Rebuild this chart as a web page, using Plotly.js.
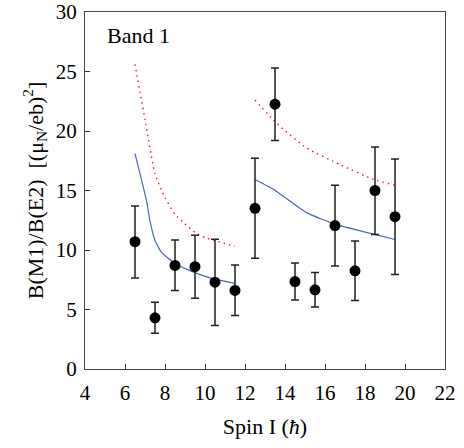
<!DOCTYPE html>
<html>
<head>
<meta charset="utf-8">
<script src="https://cdn.plot.ly/plotly-3.0.1.min.js"></script>
<style>html,body{margin:0;padding:0;background:#fff;}#chart{width:464px;height:448px;}</style>
</head>
<body>
<div id="chart"></div>
<script>
// Experimental data
var spin = [6.5, 7.5, 8.5, 9.5, 10.5, 11.5, 12.5, 13.5, 14.5, 15.5, 16.5, 17.5, 18.5, 19.5];
var ratio = [10.7, 4.3, 8.7, 8.6, 7.3, 6.6, 13.5, 22.25, 7.35, 6.65, 12.05, 8.25, 15.0, 12.8];
var errUp = [13.7, 5.6, 10.85, 11.25, 10.9, 8.75, 17.7, 25.3, 8.9, 8.1, 15.45, 10.75, 18.65, 17.65];
var errLow = [7.65, 3.0, 6.6, 5.95, 3.65, 4.5, 9.3, 19.2, 5.8, 5.2, 8.65, 5.75, 11.3, 7.95];

// Calculation curves (blue solid)
var blueAx = [6.5, 7.08, 7.25, 7.5, 7.83, 8.42, 9.25, 10.25, 11.5];
var blueAy = [18.1, 14.1, 12.45, 10.8, 9.8, 8.96, 8.27, 7.66, 7.2];
var blueBx = [12.5, 13.42, 15.08, 16.5, 18.42, 19.5];
var blueBy = [15.93, 15.1, 13.14, 12.17, 11.33, 10.88];

// Calculation curves (red dotted)
var redAx = [6.5, 7.0, 7.5, 8.0, 8.5, 9.0, 9.5, 10.0, 10.5, 11.5];
var redAy = [25.6, 20.97, 16.4, 14.4, 13.0, 12.2, 11.47, 11.05, 10.78, 10.3];
var redBx = [12.5, 13.58, 15.08, 16.75, 18.42, 19.5];
var redBy = [22.6, 20.65, 18.57, 17.18, 15.93, 15.45];

// Tick labels
var xTicks = [4, 6, 8, 10, 12, 14, 16, 18, 20, 22];
var yTicks = [0, 5, 10, 15, 20, 25, 30];

var serif = 'Liberation Serif, Times New Roman, Times, serif';
var blue = '#4a68b8';
var red = '#ee1c24';

var traces = [
  {x: redAx, y: redAy, mode: 'lines', line: {color: red, width: 1.4, dash: '1.5px,4px', shape: 'spline', smoothing: 0.5}, hoverinfo: 'skip'},
  {x: redBx, y: redBy, mode: 'lines', line: {color: red, width: 1.4, dash: '1.5px,4px', shape: 'spline', smoothing: 0.5}, hoverinfo: 'skip'},
  {x: blueAx, y: blueAy, mode: 'lines', line: {color: blue, width: 1.2, shape: 'spline', smoothing: 0.5}, hoverinfo: 'skip'},
  {x: blueBx, y: blueBy, mode: 'lines', line: {color: blue, width: 1.2, shape: 'spline', smoothing: 0.5}, hoverinfo: 'skip'},
  {
    x: spin, y: ratio, mode: 'markers', type: 'scatter',
    marker: {color: '#000', size: 11},
    error_y: {
      type: 'data', symmetric: false,
      array: errUp.map(function(u, i){ return u - ratio[i]; }),
      arrayminus: errLow.map(function(l, i){ return ratio[i] - l; }),
      color: '#222', thickness: 1.5, width: 4
    }
  }
];

var layout = {
  width: 464, height: 448,
  margin: {l: 85, r: 19, t: 12, b: 79},
  paper_bgcolor: '#fff', plot_bgcolor: '#fff',
  showlegend: false,
  font: {family: serif, color: '#000', size: 21},
  xaxis: {
    range: [4, 22], tickvals: xTicks,
    ticks: 'inside', ticklen: 5, tickcolor: '#333', tickwidth: 1,
    showline: true, linecolor: '#444', linewidth: 1, mirror: true,
    showgrid: false, zeroline: false,
    ticklabelstandoff: 5, ticklabeloverflow: 'allow',
    tickfont: {family: serif, size: 21},
    title: {text: 'Spin I (<i>ħ</i>)', font: {family: serif, size: 22}, standoff: 14}
  },
  yaxis: {
    range: [0, 30], tickvals: yTicks,
    ticks: 'inside', ticklen: 5, tickcolor: '#333', tickwidth: 1,
    showline: true, linecolor: '#444', linewidth: 1, mirror: true,
    showgrid: false, zeroline: false,
    ticklabelstandoff: 3, ticklabeloverflow: 'allow',
    tickfont: {family: serif, size: 21},
    title: {text: 'B(M1)/B(E2)  [(μ<sub>N</sub>/eb)<sup>2</sup>]', font: {family: serif, size: 22}, standoff: 6}
  },
  annotations: [{
    text: 'Band 1', xref: 'paper', yref: 'paper', x: 0.055, y: 0.935,
    xanchor: 'left', yanchor: 'middle', showarrow: false,
    font: {family: serif, size: 22, color: '#000'}
  }]
};

Plotly.newPlot('chart', traces, layout, {displayModeBar: false, staticPlot: true});
</script>
</body>
</html>
